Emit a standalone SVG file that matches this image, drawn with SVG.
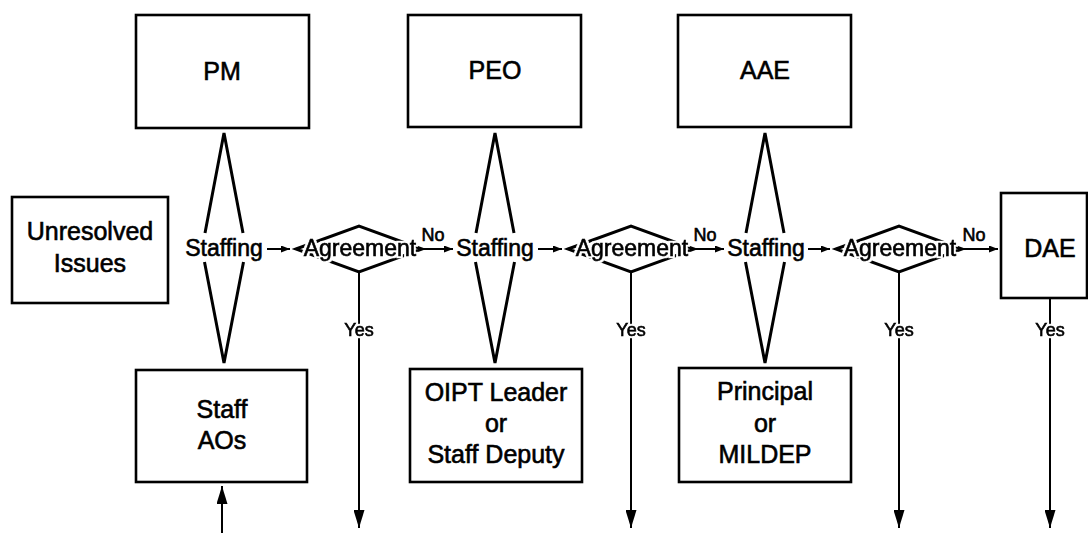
<svg xmlns="http://www.w3.org/2000/svg" width="1088" height="533" viewBox="0 0 1088 533">
<style>
.box{fill:#fff;stroke:#000;stroke-width:2.6}
.lbl{font-family:"Liberation Sans",Arial,Helvetica,sans-serif;font-size:23px;text-anchor:middle;fill:#000;stroke:#000;stroke-width:0.6}
.bl{font-size:25px}
.sm{font-size:18px;stroke-width:0.6}
.halo{filter:url(#haloF)}
.sp{fill:none;stroke:#000;stroke-width:3;stroke-linejoin:miter}
.dia{fill:none;stroke:#000;stroke-width:3;stroke-linejoin:miter;stroke-miterlimit:20}
.conn{stroke:#000;stroke-width:2;fill:none}
.big{marker-end:url(#ahBig)}
.small{marker-end:url(#ahSmall)}
</style>
<defs>
<filter id="haloF" x="-15%" y="-40%" width="130%" height="180%" color-interpolation-filters="sRGB">
<feMorphology in="SourceAlpha" operator="dilate" radius="2" result="d"/>
<feFlood flood-color="#fff" flood-opacity="1"/>
<feComposite in2="d" operator="in" result="w"/>
<feMerge><feMergeNode in="w"/><feMergeNode in="SourceGraphic"/></feMerge>
</filter>
<marker id="ahBig" viewBox="0 0 10 10" refX="10" refY="5" markerWidth="18" markerHeight="11" preserveAspectRatio="none" orient="auto" markerUnits="userSpaceOnUse"><path d="M0,0 L10,5 L0,10 z" fill="#000"/></marker>
<marker id="ahSmall" viewBox="0 0 10 10" refX="10" refY="5" markerWidth="9" markerHeight="7" preserveAspectRatio="none" orient="auto" markerUnits="userSpaceOnUse"><path d="M0,0 L10,5 L0,10 z" fill="#000"/></marker>
</defs>
<rect width="1088" height="533" fill="#fff"/>

<g id="unresolved">
<rect class="box" x="12" y="197" width="156" height="106"/>
<text class="lbl bl" x="90" y="240">Unresolved</text>
<text class="lbl bl" x="90" y="272">Issues</text>
</g>

<g id="pm"><rect class="box" x="136" y="15" width="173" height="113"/><text class="lbl bl" x="222" y="80">PM</text></g>
<g id="peo"><rect class="box" x="408" y="15" width="173" height="112"/><text class="lbl bl" x="495" y="79">PEO</text></g>
<g id="aae"><rect class="box" x="678" y="15" width="173" height="112"/><text class="lbl bl" x="765" y="79">AAE</text></g>

<g id="staff-aos"><rect class="box" x="136" y="370" width="171" height="112"/>
<text class="lbl bl" x="222" y="418">Staff</text><text class="lbl bl" x="222" y="449">AOs</text></g>
<g id="oipt"><rect class="box" x="410" y="369" width="172" height="113"/>
<text class="lbl bl" x="496" y="401">OIPT Leader</text><text class="lbl bl" x="496" y="432">or</text><text class="lbl bl" x="496" y="463">Staff Deputy</text></g>
<g id="principal"><rect class="box" x="679" y="368" width="172" height="114"/>
<text class="lbl bl" x="765" y="400">Principal</text><text class="lbl bl" x="765" y="432">or</text><text class="lbl bl" x="765" y="463">MILDEP</text></g>

<g id="dae"><rect class="box" x="1001" y="193" width="86" height="105"/><text class="lbl bl" x="1050" y="257">DAE</text></g>

<g id="staffing1">
<path class="sp" d="M205,233 L224,133 L243,233 M204.5,262 L224,363 L243.5,262"/>
<text class="lbl" x="224" y="256">Staffing</text>
</g>
<g id="staffing2">
<path class="sp" d="M476,233 L495,133 L514,233 M475.5,262 L495,363 L514.5,262"/>
<text class="lbl" x="495" y="256">Staffing</text>
</g>
<g id="staffing3">
<path class="sp" d="M746,233 L765,133 L784,233 M745.5,262 L765,363 L784.5,262"/>
<text class="lbl" x="766" y="256">Staffing</text>
</g>

<g id="agreement1">
<polygon class="dia" points="296,249 359,226 422,249 359,272"/>
<text class="lbl halo" x="360" y="256">Agreement</text>
</g>
<g id="agreement2">
<polygon class="dia" points="568,249 631,226 694,249 631,272"/>
<text class="lbl halo" x="632" y="256">Agreement</text>
</g>
<g id="agreement3">
<polygon class="dia" points="836,249 899,226 962,249 899,272"/>
<text class="lbl halo" x="900" y="256">Agreement</text>
</g>

<g id="connectors">
<line class="conn small" x1="267" y1="249" x2="290" y2="249"/>
<line class="conn small" x1="538" y1="249" x2="562" y2="249"/>
<line class="conn small" x1="808" y1="249" x2="830" y2="249"/>
<line class="conn small" x1="422" y1="249" x2="453" y2="249"/>
<line class="conn small" x1="694" y1="249" x2="724" y2="249"/>
<line class="conn small" x1="962" y1="249" x2="998" y2="249"/>
<line class="conn big" x1="359" y1="272" x2="359" y2="528"/>
<line class="conn big" x1="631" y1="272" x2="631" y2="528"/>
<line class="conn big" x1="899" y1="272" x2="899" y2="528"/>
<line class="conn big" x1="1050" y1="298" x2="1050" y2="528"/>
<line class="conn big" x1="222" y1="533" x2="222" y2="486"/>
<text class="lbl sm" x="433" y="241">No</text>
<text class="lbl sm" x="705" y="241">No</text>
<text class="lbl sm" x="974" y="241">No</text>
<text class="lbl sm halo" x="359" y="336">Yes</text>
<text class="lbl sm halo" x="631" y="336">Yes</text>
<text class="lbl sm halo" x="899" y="336">Yes</text>
<text class="lbl sm halo" x="1050" y="336">Yes</text>
</g>
</svg>
